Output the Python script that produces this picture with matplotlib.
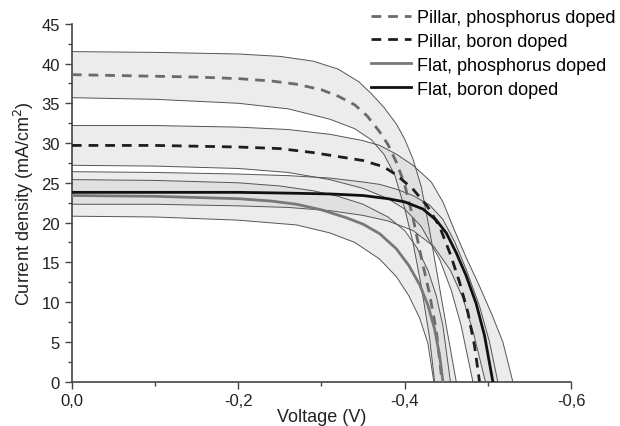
import matplotlib
matplotlib.use('Agg')
import matplotlib.pyplot as plt
from matplotlib.ticker import MultipleLocator, FuncFormatter

plt.rcParams['font.family'] = ['Liberation Sans', 'DejaVu Sans']

# Pillar, phosphorus doped (mean, upper and lower edge of the band)
pp_v = [0, -0.05, -0.10, -0.15, -0.20, -0.24, -0.27, -0.30, -0.32, -0.34, -0.355, -0.37, -0.38, -0.39, -0.40, -0.41, -0.42, -0.43, -0.438, -0.445]
pp_j = [38.6, 38.5, 38.4, 38.3, 38.1, 37.8, 37.4, 36.7, 35.9, 34.8, 33.4, 31.4, 29.8, 27.6, 24.8, 20.6, 15.6, 11.0, 6.4, 0]
pp_up_v = [0, -0.10, -0.20, -0.25, -0.29, -0.32, -0.345, -0.36, -0.375, -0.39, -0.40, -0.41, -0.42, -0.43, -0.44, -0.45, -0.462]
pp_up_j = [41.5, 41.4, 41.2, 40.9, 40.3, 39.3, 37.7, 36.2, 34.5, 32.4, 30.5, 28.0, 24.5, 19.0, 13.0, 7.0, 0]
pp_lo_v = [0, -0.10, -0.20, -0.26, -0.31, -0.34, -0.36, -0.375, -0.388, -0.40, -0.41, -0.42, -0.43, -0.436]
pp_lo_j = [35.7, 35.5, 35.0, 34.3, 33.0, 31.8, 30.4, 28.6, 26.0, 21.8, 17.5, 12.0, 5.5, 0]

# Pillar, boron doped
pb_v = [0, -0.10, -0.20, -0.25, -0.29, -0.32, -0.35, -0.375, -0.39, -0.41, -0.427, -0.442, -0.455, -0.466, -0.476, -0.484, -0.490]
pb_j = [29.7, 29.7, 29.5, 29.3, 28.8, 28.3, 27.8, 27.0, 26.0, 24.2, 22.1, 19.5, 16.0, 12.5, 8.7, 4.5, 0]
pb_up_v = [0, -0.10, -0.20, -0.26, -0.31, -0.35, -0.37, -0.39, -0.41, -0.432, -0.446, -0.46, -0.474, -0.49, -0.505, -0.518, -0.530]
pb_up_j = [32.2, 32.2, 32.0, 31.7, 31.1, 30.3, 29.7, 28.6, 27.2, 25.1, 22.6, 19.0, 15.6, 12.0, 8.4, 5.0, 0]
pb_lo_v = [0, -0.10, -0.20, -0.26, -0.31, -0.35, -0.38, -0.40, -0.42, -0.442, -0.456, -0.468, -0.482]
pb_lo_j = [27.2, 27.1, 26.8, 26.3, 25.4, 24.3, 23.0, 21.7, 19.5, 15.4, 11.5, 7.0, 0]

# Flat, phosphorus doped
fp_v = [0, -0.10, -0.20, -0.24, -0.27, -0.30, -0.33, -0.35, -0.37, -0.39, -0.405, -0.418, -0.428, -0.436, -0.442, -0.446]
fp_j = [23.4, 23.3, 23.0, 22.7, 22.3, 21.6, 20.6, 19.8, 18.6, 16.7, 14.6, 12.2, 9.6, 6.6, 3.3, 0]
fp_up_v = [0, -0.10, -0.20, -0.25, -0.29, -0.32, -0.35, -0.38, -0.40, -0.415, -0.428, -0.438, -0.446, -0.455]
fp_up_j = [25.4, 25.3, 25.0, 24.6, 24.0, 23.3, 22.3, 20.7, 19.0, 16.8, 14.0, 10.8, 7.0, 0]
fp_lo_v = [0, -0.10, -0.20, -0.27, -0.31, -0.34, -0.37, -0.39, -0.405, -0.418, -0.428, -0.435]
fp_lo_j = [20.8, 20.7, 20.3, 19.7, 18.7, 17.5, 15.4, 13.2, 10.8, 8.0, 4.8, 0]

# Flat, boron doped
fb_v = [0, -0.10, -0.20, -0.26, -0.31, -0.35, -0.38, -0.40, -0.422, -0.438, -0.450, -0.462, -0.474, -0.486, -0.496, -0.506]
fb_j = [23.8, 23.8, 23.8, 23.7, 23.6, 23.4, 23.0, 22.6, 21.7, 20.3, 18.7, 16.2, 13.3, 9.8, 5.8, 0]
fb_up_v = [0, -0.10, -0.20, -0.26, -0.31, -0.35, -0.37, -0.39, -0.41, -0.43, -0.446, -0.46, -0.474, -0.49, -0.502, -0.512]
fb_up_j = [26.4, 26.3, 26.1, 25.9, 25.6, 25.1, 24.8, 24.2, 23.4, 22.2, 20.4, 17.6, 14.1, 9.5, 5.0, 0]
fb_lo_v = [0, -0.10, -0.20, -0.26, -0.31, -0.35, -0.38, -0.41, -0.435, -0.455, -0.47, -0.483, -0.497]
fb_lo_j = [22.3, 22.3, 22.1, 21.9, 21.5, 20.9, 20.2, 19.0, 17.0, 14.0, 10.5, 6.0, 0]

labels = ['Pillar, phosphorus doped', 'Pillar, boron doped',
          'Flat, phosphorus doped', 'Flat, boron doped']


def band(ax, up_v, up_j, lo_v, lo_j):
    # closed polygon: upper edge out, lower edge back
    xs = list(up_v) + list(lo_v)[::-1]
    ys = list(up_j) + list(lo_j)[::-1]
    ax.fill(xs, ys, color='#c8c8c8', alpha=0.33, lw=0, zorder=1)
    ax.plot(up_v, up_j, color='#555555', lw=0.7, zorder=2)
    ax.plot(lo_v, lo_j, color='#555555', lw=0.7, zorder=2)


fig = plt.figure(figsize=(6.2, 4.27), dpi=100)
ax = fig.add_axes([0.116, 0.104, 0.805, 0.838])

band(ax, pp_up_v, pp_up_j, pp_lo_v, pp_lo_j)
band(ax, pb_up_v, pb_up_j, pb_lo_v, pb_lo_j)
band(ax, fp_up_v, fp_up_j, fp_lo_v, fp_lo_j)
band(ax, fb_up_v, fb_up_j, fb_lo_v, fb_lo_j)

dash = (0, (3.5, 2.5))
ax.plot(pp_v, pp_j, color='#6a6a6a', lw=2, ls=dash, label=labels[0], zorder=3)
ax.plot(pb_v, pb_j, color='#1e1e1e', lw=2, ls=dash, label=labels[1], zorder=3)
ax.plot(fp_v, fp_j, color='#787878', lw=2, label=labels[2], zorder=3)
ax.plot(fb_v, fb_j, color='#111111', lw=2, label=labels[3], zorder=3)

ax.set_xlim(0, -0.6)
ax.set_ylim(0, 45)
ax.xaxis.set_major_locator(MultipleLocator(0.2))
ax.xaxis.set_minor_locator(MultipleLocator(0.1))
ax.yaxis.set_major_locator(MultipleLocator(5))
ax.yaxis.set_minor_locator(MultipleLocator(2.5))
ax.xaxis.set_major_formatter(FuncFormatter(lambda v, p: ('%.1f' % v).replace('.', ',').replace('-0,0', '0,0')))
ax.tick_params(which='major', length=5, width=1, color='#444444', labelsize=12, labelcolor='#222222')
ax.tick_params(which='minor', length=3, width=1, color='#444444')
for s in ['top', 'right']:
    ax.spines[s].set_visible(False)
for s in ['left', 'bottom']:
    ax.spines[s].set_color('#444444')
    ax.spines[s].set_linewidth(1.2)

ax.set_xlabel('Voltage (V)', fontsize=13, color='#222222', labelpad=0)
ax.set_ylabel('Current density (mA/cm$^2$)', fontsize=13, color='#222222', labelpad=4)

fig.legend(loc='upper right', bbox_to_anchor=(1.008, 1.0), frameon=False, fontsize=13,
           handlelength=2.2, handletextpad=0.3, labelspacing=0.38, borderaxespad=0.15)

fig.savefig('out.png', dpi=100, facecolor='white')
